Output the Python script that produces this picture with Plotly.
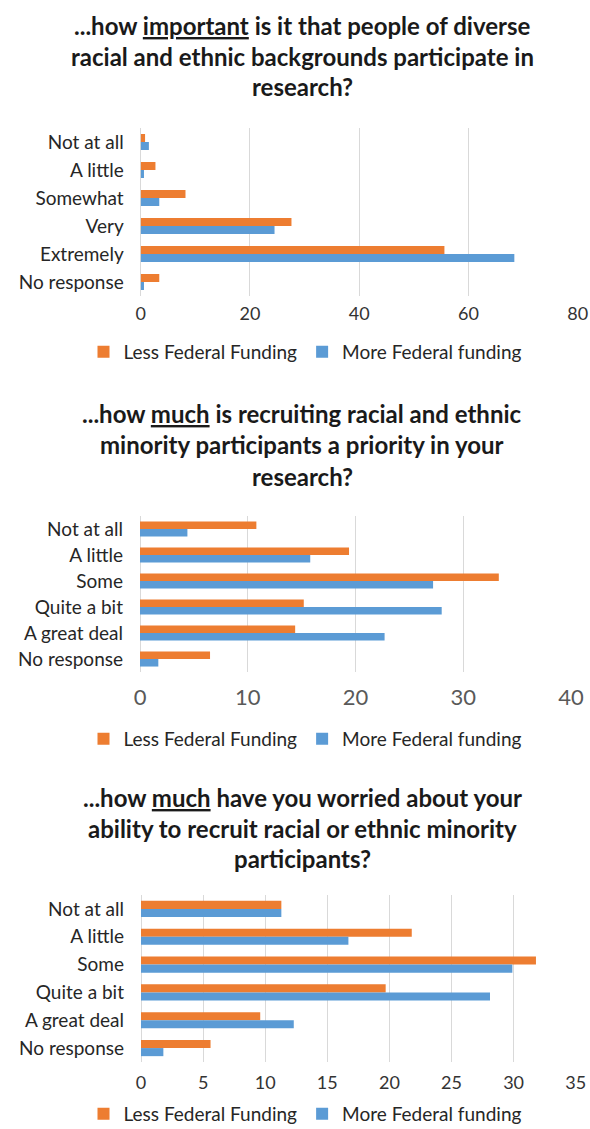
import plotly.graph_objects as go

# ---- data ----
categories_1 = ["Not at all", "A little", "Somewhat", "Very", "Extremely", "No response"]
less_1 = [0.8, 2.7, 8.2, 27.6, 55.6, 3.4]
more_1 = [1.5, 0.6, 3.4, 24.5, 68.4, 0.6]
ticks_1 = [0, 20, 40, 60, 80]

categories_2 = ["Not at all", "A little", "Some", "Quite a bit", "A great deal", "No response"]
less_2 = [10.8, 19.4, 33.3, 15.2, 14.4, 6.5]
more_2 = [4.4, 15.8, 27.2, 28.0, 22.7, 1.7]
ticks_2 = [0, 10, 20, 30, 40]

categories_3 = ["Not at all", "A little", "Some", "Quite a bit", "A great deal", "No response"]
less_3 = [11.3, 21.8, 31.8, 19.7, 9.6, 5.6]
more_3 = [11.3, 16.7, 29.9, 28.1, 12.3, 1.8]
ticks_3 = [0, 5, 10, 15, 20, 25, 30, 35]

series_names = ["Less Federal Funding", "More Federal funding"]
colors = ["#ED7D31", "#5B9BD5"]

title_1 = ["...how <u>important</u> is it that people of diverse",
           "racial and ethnic backgrounds participate in",
           "research?"]
title_2 = ["...how <u>much</u> is recruiting racial and ethnic",
           "minority participants a priority in your",
           "research?"]
title_3 = ["...how <u>much</u> have you worried about your",
           "ability to recruit racial or ethnic minority",
           "participants?"]

W, H = 590, 1129
FONT = "Lato"

def py(pix):
    return 1 - pix / H

fig = go.Figure()

panels = [
    (categories_1, less_1, more_1, "x", "y", "legend"),
    (categories_2, less_2, more_2, "x2", "y2", "legend2"),
    (categories_3, less_3, more_3, "x3", "y3", "legend3"),
]

for cats, less, more, xa, ya, lg in panels:
    for name, vals, col in zip(series_names, [less, more], colors):
        fig.add_trace(go.Bar(
            y=cats, x=vals, name=name, orientation="h",
            marker=dict(color=col, line=dict(width=0)),
            xaxis=xa, yaxis=ya, legend=lg, hoverinfo="x+y+name",
        ))

# plot areas (pixel)
areas = [
    dict(x0=140.7, x1=577.7, y0=128, y1=296, rng=[0, 80], ticks=ticks_1, tsize=18, tcol="#333333", stand=5),
    dict(x0=140.0, x1=571.0, y0=516, y1=672, rng=[0, 40], ticks=ticks_2, tsize=22, tcol="#595959", stand=10),
    dict(x0=141.0, x1=575.7, y0=895, y1=1062, rng=[0, 35], ticks=ticks_3, tsize=18, tcol="#333333", stand=8),
]

layout = dict(
    width=W, height=H,
    margin=dict(l=0, r=0, t=0, b=0, autoexpand=False),
    paper_bgcolor="white", plot_bgcolor="white",
    barmode="group", bargap=0.42, bargroupgap=0.0,
    font=dict(family=FONT, color="#262626"),
    annotations=[],
)

for i, a in enumerate(areas):
    sfx = "" if i == 0 else str(i + 1)
    layout["xaxis" + sfx] = dict(
        domain=[a["x0"] / W, a["x1"] / W], range=a["rng"],
        anchor="y" + sfx, tickvals=a["ticks"],
        showgrid=True, gridcolor="#D9D9D9", gridwidth=1,
        zeroline=True, zerolinecolor="#D9D9D9", zerolinewidth=1,
        showline=False, ticks="", ticklabelstandoff=a["stand"],
        tickfont=dict(family=FONT, size=a["tsize"], color=a["tcol"]),
        fixedrange=True, automargin=False,
    )
    layout["yaxis" + sfx] = dict(
        domain=[py(a["y1"]), py(a["y0"])], anchor="x" + sfx,
        autorange="reversed", type="category",
        showgrid=False, zeroline=False, showline=False, ticks="",
        ticklabelstandoff=16,
        tickfont=dict(family=FONT, size=19, color="#262626"),
        fixedrange=True, automargin=False,
    )

# titles
title_lines = [(title_1, [25, 56, 87]), (title_2, [413, 444, 476]), (title_3, [797, 828, 858])]
for lines, ys in title_lines:
    for txt, yy in zip(lines, ys):
        layout["annotations"].append(dict(
            text="<b>" + txt + "</b>", x=302 / W, y=py(yy), xref="paper", yref="paper",
            xanchor="center", yanchor="middle", showarrow=False,
            font=dict(family=FONT, size=24, color="#1a1a1a"),
        ))

# legends
for key, yy in [("legend", 352), ("legend2", 739), ("legend3", 1114)]:
    layout[key] = dict(
        orientation="h", x=305 / W, xanchor="center", y=py(yy), yanchor="middle",
        font=dict(family=FONT, size=19, color="#262626"),
        bgcolor="rgba(0,0,0,0)", traceorder="normal",
    )

fig.update_layout(**layout)
fig.write_html("out.html")
